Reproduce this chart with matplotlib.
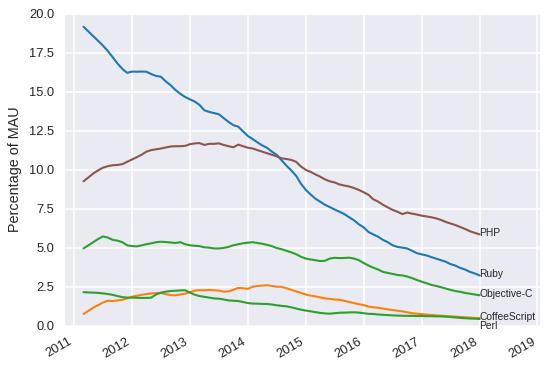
import matplotlib
matplotlib.use("Agg")
import matplotlib.pyplot as plt
import matplotlib.dates as mdates
import pandas as pd
import seaborn as sns

# ---- data (monthly, 2011-03 .. 2018-01) ----
start_month = "2011-03-01"
n_months = 83

ruby = [19.15, 18.85, 18.55, 18.25, 17.95, 17.6, 17.2, 16.8, 16.45, 16.2,
        16.28, 16.27, 16.28, 16.27, 16.12, 16.0, 15.95, 15.65, 15.4, 15.1,
        14.85, 14.65, 14.5, 14.35, 14.15, 13.8, 13.7, 13.62, 13.55, 13.3,
        13.05, 12.85, 12.75, 12.45, 12.15, 11.95, 11.75, 11.55, 11.4, 11.15,
        10.95, 10.6, 10.25, 9.95, 9.6, 9.1, 8.7, 8.4, 8.15, 7.95,
        7.75, 7.6, 7.45, 7.3, 7.15, 6.95, 6.75, 6.5, 6.3, 6.0,
        5.85, 5.7, 5.5, 5.35, 5.15, 5.05, 5.0, 4.95, 4.8, 4.65,
        4.57, 4.5, 4.4, 4.3, 4.2, 4.1, 3.95, 3.85, 3.7, 3.6,
        3.45, 3.35, 3.22]

php = [9.25, 9.5, 9.75, 9.95, 10.12, 10.22, 10.28, 10.3, 10.35, 10.5,
       10.65, 10.8, 10.95, 11.15, 11.25, 11.3, 11.35, 11.42, 11.48, 11.5,
       11.5, 11.52, 11.63, 11.68, 11.7, 11.58, 11.65, 11.65, 11.68, 11.58,
       11.5, 11.43, 11.6, 11.5, 11.4, 11.35, 11.25, 11.15, 11.05, 10.95,
       10.85, 10.72, 10.68, 10.62, 10.5, 10.2, 9.98, 9.85, 9.7, 9.55,
       9.38, 9.25, 9.18, 9.05, 8.98, 8.92, 8.82, 8.7, 8.55, 8.38,
       8.1, 7.95, 7.75, 7.58, 7.42, 7.3, 7.15, 7.25, 7.18, 7.12,
       7.05, 7.0, 6.95, 6.88, 6.78, 6.65, 6.55, 6.45, 6.32, 6.2,
       6.05, 5.95, 5.85]

objc = [4.95, 5.15, 5.35, 5.55, 5.72, 5.65, 5.5, 5.45, 5.35, 5.15,
        5.1, 5.08, 5.15, 5.22, 5.28, 5.35, 5.38, 5.36, 5.33, 5.3,
        5.35, 5.22, 5.15, 5.12, 5.1, 5.02, 5.0, 4.95, 4.95, 4.98,
        5.05, 5.15, 5.22, 5.28, 5.32, 5.35, 5.3, 5.25, 5.18, 5.1,
        4.98, 4.9, 4.8, 4.7, 4.58, 4.42, 4.3, 4.24, 4.2, 4.14,
        4.16, 4.3, 4.35, 4.33, 4.34, 4.36, 4.3, 4.2, 4.02, 3.85,
        3.72, 3.6, 3.45, 3.38, 3.32, 3.25, 3.22, 3.15, 3.05, 2.93,
        2.82, 2.72, 2.62, 2.55, 2.47, 2.38, 2.3, 2.22, 2.17, 2.1,
        2.05, 2.0, 1.95]

coffee = [0.75, 0.95, 1.15, 1.32, 1.48, 1.6, 1.58, 1.62, 1.66, 1.75,
          1.86, 1.92, 1.98, 2.03, 2.06, 2.09, 2.1, 2.02, 1.96, 1.95,
          2.0, 2.05, 2.15, 2.25, 2.28, 2.27, 2.29, 2.27, 2.25, 2.18,
          2.2, 2.3, 2.42, 2.4, 2.36, 2.5, 2.54, 2.57, 2.59, 2.55,
          2.5, 2.49, 2.4, 2.3, 2.2, 2.1, 2.0, 1.93, 1.88, 1.82,
          1.75, 1.72, 1.68, 1.66, 1.6, 1.52, 1.45, 1.38, 1.32, 1.22,
          1.18, 1.15, 1.1, 1.05, 1.0, 0.96, 0.92, 0.86, 0.8, 0.77,
          0.74, 0.71, 0.69, 0.66, 0.64, 0.62, 0.6, 0.58, 0.56, 0.54,
          0.52, 0.5, 0.49]

perl = [2.15, 2.13, 2.12, 2.1, 2.07, 2.03, 1.98, 1.9, 1.83, 1.8,
        1.8, 1.79, 1.78, 1.78, 1.8, 2.0, 2.12, 2.18, 2.22, 2.24,
        2.26, 2.27, 2.12, 1.98, 1.9, 1.85, 1.8, 1.75, 1.73, 1.68,
        1.62, 1.6, 1.58, 1.52, 1.45, 1.42, 1.41, 1.4, 1.39, 1.36,
        1.31, 1.27, 1.24, 1.18, 1.1, 1.03, 0.97, 0.92, 0.87, 0.82,
        0.79, 0.77, 0.8, 0.83, 0.84, 0.85, 0.86, 0.84, 0.8, 0.76,
        0.75, 0.72, 0.7, 0.68, 0.66, 0.65, 0.64, 0.63, 0.63, 0.62,
        0.62, 0.61, 0.61, 0.6, 0.6, 0.58, 0.56, 0.53, 0.5, 0.48,
        0.46, 0.45, 0.43]

names = ["Ruby", "PHP", "Objective-C", "CoffeeScript", "Perl"]
series = [ruby, php, objc, coffee, perl]
colors = ["#1f77b4", "#8c564b", "#2ca02c", "#ff7f0e", "#2ca02c"]
label_offsets = [1, 1, 1, 1, -5]  # points, vertical nudge of end labels

dates = pd.date_range(start_month, periods=n_months, freq="MS")

# ---- style ----
sns.set_style("darkgrid")
plt.rcParams["font.family"] = ["Liberation Sans", "DejaVu Sans"]

fig = plt.figure(figsize=(5.49, 3.70), dpi=100)
ax = fig.add_subplot(111)

for name, vals, c, off in zip(names, series, colors, label_offsets):
    ax.plot(dates, vals, color=c, linewidth=1.5)
    ax.annotate(name, xy=(dates[-1], vals[-1]), xytext=(0, off),
                textcoords="offset points", ha="left", va="center",
                fontsize=7.4, color="0.15")

ax.set_ylim(0, 20)
ax.set_xlim(pd.Timestamp("2010-10-29"), pd.Timestamp("2019-01-20"))
ax.xaxis.set_major_locator(mdates.YearLocator())
ax.xaxis.set_major_formatter(mdates.DateFormatter("%Y"))
ax.set_ylabel("Percentage of MAU", fontsize=10.4, color="0.15", labelpad=5)
ax.tick_params(axis="both", labelsize=9.3, colors="0.15", length=0, pad=7)
ax.grid(linewidth=1.1, color="white")
for lbl in ax.get_xticklabels():
    lbl.set_rotation(30)
    lbl.set_ha("right")

fig.subplots_adjust(left=0.1166, right=0.9845, top=0.9635, bottom=0.1197)
fig.savefig("out.png", dpi=100)
